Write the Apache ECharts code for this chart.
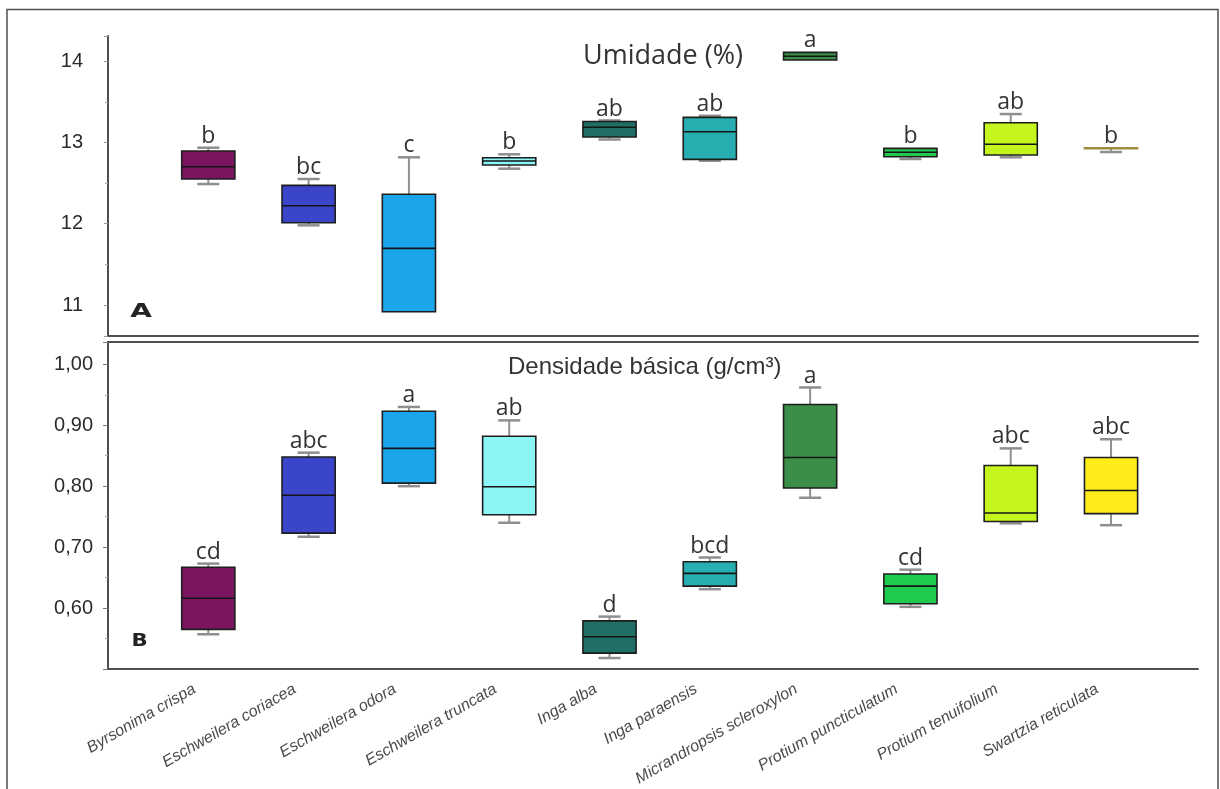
<!DOCTYPE html>
<html><head><meta charset="utf-8">
<script src="https://cdn.jsdelivr.net/npm/echarts@6/dist/echarts.min.js"></script>
<style>html,body{margin:0;padding:0;background:#fff}#c{width:1220px;height:789px}</style>
</head><body><div id="c"></div>
<script>
// ---------- data ----------
const categories = ['Byrsonima crispa','Eschweilera coriacea','Eschweilera odora','Eschweilera truncata','Inga alba','Inga paraensis','Micrandropsis scleroxylon','Protium puncticulatum','Protium tenuifolium','Swartzia reticulata'];

// Umidade (%) : low whisker, Q1, median, Q3, high whisker
const umidLow  = [12.488, 11.980, 10.918, 12.677, 13.036, 12.775, 14.014, 12.796, 12.817, 12.882];
const umidQ1   = [12.550, 12.012, 10.918, 12.722, 13.066, 12.792, 14.014, 12.824, 12.845, 12.925];
const umidMed  = [12.701, 12.221, 11.697, 12.771, 13.187, 13.132, 14.060, 12.880, 12.977, 12.930];
const umidQ3   = [12.894, 12.472, 12.362, 12.812, 13.257, 13.308, 14.108, 12.927, 13.242, 12.935];
const umidHigh = [12.935, 12.550, 12.817, 12.854, 13.270, 13.328, 14.108, 12.927, 13.349, 12.935];
const umidLetters = ['b','bc','c','b','ab','ab','a','b','ab','b'];

// Densidade básica (g/cm3)
const densLow  = [0.557, 0.717, 0.800, 0.740, 0.518, 0.631, 0.781, 0.602, 0.739, 0.736];
const densQ1   = [0.565, 0.723, 0.805, 0.753, 0.526, 0.636, 0.797, 0.607, 0.742, 0.755];
const densMed  = [0.616, 0.785, 0.862, 0.799, 0.553, 0.657, 0.847, 0.636, 0.756, 0.793];
const densQ3   = [0.667, 0.848, 0.923, 0.882, 0.579, 0.676, 0.934, 0.656, 0.834, 0.847];
const densHigh = [0.673, 0.855, 0.930, 0.908, 0.586, 0.683, 0.962, 0.663, 0.862, 0.877];
const densLetters = ['cd','abc','a','ab','d','bcd','a','cd','abc','abc'];

const umidTicks = [11, 12, 13, 14];
const densTicks = [0.6, 0.7, 0.8, 0.9, 1.0];

// ---------- style ----------
const boxColors = ['#7a1660','#3b45c9','#1ba6ec','#8cf5f5','#1f6f66','#27aeb0','#3a8e47','#1fcb4f','#c4f51c','#ffec1a'];
const frameColor = '#4f4f4f';

function boxRender(letters) {
  return function (params, api) {
    const i = api.value(0);
    const low = api.value(1), q1 = api.value(2), med = api.value(3), q3 = api.value(4), high = api.value(5);
    const band = api.size([1, 0])[0];
    const bw = band * 0.53, cw = band * 0.22;
    const cx = api.coord([i, med])[0];
    const y = v => api.coord([i, v])[1];
    const yl = y(low), y1 = y(q1), ym = y(med), y3 = y(q3), yh = y(high);
    const gray = '#8f8f8f';
    const flat = (y1 - y3) < 2;
    const ch = [];
    if (yh < y3 - 0.5) {
      ch.push({type:'line', shape:{x1:cx, y1:y3, x2:cx, y2:yh}, style:{stroke:gray, lineWidth:2}});
      ch.push({type:'line', shape:{x1:cx - cw/2, y1:yh, x2:cx + cw/2, y2:yh}, style:{stroke:gray, lineWidth:2.5}});
    }
    if (yl > y1 + 0.5) {
      ch.push({type:'line', shape:{x1:cx, y1:y1, x2:cx, y2:yl}, style:{stroke:gray, lineWidth:2}});
      ch.push({type:'line', shape:{x1:cx - cw/2, y1:yl, x2:cx + cw/2, y2:yl}, style:{stroke:gray, lineWidth:2.5}});
    }
    ch.push({type:'rect', shape:{x:cx - bw/2, y:y3, width:bw, height:Math.max(y1 - y3, 1)},
             style:{fill:boxColors[i], stroke: flat ? '#a08c3c' : '#1e1e1e', lineWidth:1.6}});
    if (!flat) {
      ch.push({type:'line', shape:{x1:cx - bw/2, y1:ym, x2:cx + bw/2, y2:ym}, style:{stroke:'#151515', lineWidth:1.6}});
    }
    ch.push({type:'text', x:cx, y:yh,
             style:{text:letters[params.dataIndex], font:'23px "Open Sans"', fill:'#333', align:'center', verticalAlign:'bottom'}});
    return {type:'group', children:ch};
  };
}

const umidData = categories.map((c, i) => [i, umidLow[i], umidQ1[i], umidMed[i], umidQ3[i], umidHigh[i]]);
const densData = categories.map((c, i) => [i, densLow[i], densQ1[i], densMed[i], densQ3[i], densHigh[i]]);

const xBase = {type:'value', min:-1, max:9.867, interval:1, splitLine:{show:false},
               axisTick:{show:false}, axisLine:{show:true, onZero:false, lineStyle:{color:frameColor, width:2}}};

const chart = echarts.init(document.getElementById('c'), null, {renderer:'canvas'});
chart.setOption({
  animation:false,
  backgroundColor:'#fff',
  grid:[
    {left:108, right:22, top:36, height:300},
    {left:108, right:22, top:342, height:327}
  ],
  xAxis:[
    Object.assign({}, xBase, {gridIndex:0, axisLabel:{show:false}}),
    Object.assign({}, xBase, {gridIndex:1, axisLabel:{
      show:true, rotate:30, margin:11, padding:[0,16,0,0],
      fontStyle:'italic', fontFamily:'"Liberation Sans", Arial, sans-serif', fontSize:16, color:'#4a4a4a',
      formatter: v => categories[Math.round(v)] || ''
    }}),
    Object.assign({}, xBase, {gridIndex:1, position:'top', axisLabel:{show:false}})
  ],
  yAxis:[
    {gridIndex:0, type:'value', min:10.619, max:14.309, splitNumber:4,
     splitLine:{show:false},
     axisLine:{show:true, onZero:false, lineStyle:{color:frameColor, width:2}},
     axisTick:{show:true, length:4, lineStyle:{color:'#999'}},
     minorTick:{show:true, splitNumber:2, length:3, lineStyle:{color:'#aaa'}},
     axisLabel:{margin:25, fontSize:20, fontFamily:'"Liberation Sans", Arial, sans-serif', color:'#2b2b2b',
       showMinLabel:false, showMaxLabel:false,
       formatter: v => umidTicks.indexOf(Math.round(v*1000)/1000) >= 0 ? String(v) : ''}},
    {gridIndex:1, type:'value', min:0.5, max:1.0366, interval:0.1,
     splitLine:{show:false},
     axisLine:{show:true, onZero:false, lineStyle:{color:frameColor, width:2}},
     axisTick:{show:true, length:5, lineStyle:{color:'#777'}},
     minorTick:{show:true, splitNumber:2, length:3, lineStyle:{color:'#aaa'}},
     axisLabel:{margin:15, fontSize:20, fontFamily:'"Liberation Sans", Arial, sans-serif', color:'#2b2b2b',
       showMinLabel:false, showMaxLabel:false,
       formatter: v => {
         const r = Math.round(v*100)/100;
         return densTicks.some(t => Math.abs(t - r) < 1e-6) ? r.toFixed(2).replace('.', ',') : '';
       }}}
  ],
  series:[
    {type:'custom', name:'Umidade', xAxisIndex:0, yAxisIndex:0, data:umidData, renderItem:boxRender(umidLetters),
     encode:{x:0, y:[1,2,3,4,5]}, clip:false},
    {type:'custom', name:'Densidade', xAxisIndex:1, yAxisIndex:1, data:densData, renderItem:boxRender(densLetters),
     encode:{x:0, y:[1,2,3,4,5]}, clip:false}
  ],
  graphic:[
    {type:'rect', silent:true, z:-10, shape:{x:7, y:9.5, width:1211, height:800},
     style:{fill:'none', stroke:frameColor, lineWidth:1.5}},
    {type:'text', silent:true, x:663, y:56,
     style:{text:'Umidade (%)', font:'27px "Open Sans"', fill:'#333', align:'center', verticalAlign:'middle'}},
    {type:'text', silent:true, x:508, y:367,
     style:{text:'Densidade básica (g/cm³)', font:'24px "Liberation Sans"', fill:'#333', align:'left', verticalAlign:'middle'}},
    {type:'text', silent:true, x:141, y:311.5, scaleX:1.4,
     style:{text:'A', font:'bold 20px "DejaVu Sans"', fill:'#222', align:'center', verticalAlign:'middle'}},
    {type:'text', silent:true, x:139.5, y:642, scaleX:1.25,
     style:{text:'B', font:'bold 17px "DejaVu Sans"', fill:'#222', align:'center', verticalAlign:'middle'}}
  ]
});
</script></body></html>
